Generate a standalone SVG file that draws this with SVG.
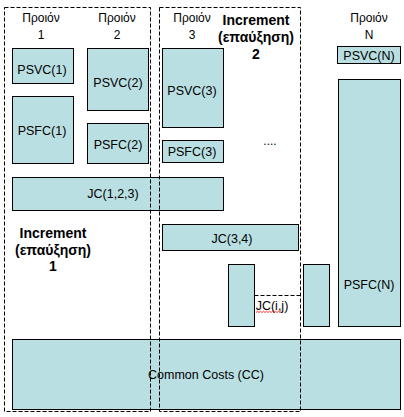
<svg xmlns="http://www.w3.org/2000/svg" width="404" height="417" viewBox="0 0 404 417">
<style>
.box{fill:#B9DFE2;stroke:#000;stroke-width:1}
.lbl{font-family:"Liberation Sans",Arial,sans-serif;font-size:12.5px;fill:#000;text-anchor:middle}
.hd{font-family:"Liberation Sans",Arial,sans-serif;font-size:12px;fill:#000;text-anchor:middle}
.inc{font-family:"Liberation Sans",Arial,sans-serif;font-size:14px;font-weight:bold;fill:#000;text-anchor:middle}
.dash{fill:none;stroke:#000;stroke-width:1;stroke-dasharray:4,2}
</style>
<rect width="404" height="417" fill="#fff"/>
<g id="cc"><rect class="box" x="12.5" y="339.5" width="388" height="70"/><text class="lbl" x="206" y="379">Common Costs (CC)</text></g>
<g id="psvc1"><rect class="box" x="12.5" y="48.5" width="61" height="35"/><text class="lbl" x="42" y="74">PSVC(1)</text></g>
<g id="psfc1"><rect class="box" x="12.5" y="96.5" width="61" height="67"/><text class="lbl" x="42" y="135">PSFC(1)</text></g>
<g id="psvc2"><rect class="box" x="87.5" y="48.5" width="61" height="62"/><text class="lbl" x="118" y="87">PSVC(2)</text></g>
<g id="psfc2"><rect class="box" x="87.5" y="123.5" width="61" height="40"/><text class="lbl" x="118" y="149">PSFC(2)</text></g>
<g id="psvc3"><rect class="box" x="162.5" y="48.5" width="61" height="79"/><text class="lbl" x="192" y="95">PSVC(3)</text></g>
<g id="psfc3"><rect class="box" x="162.5" y="140.5" width="61" height="22"/><text class="lbl" x="192" y="156">PSFC(3)</text></g>
<g id="psvcN"><rect class="box" x="337.5" y="46.5" width="63" height="17"/><text class="lbl" x="369" y="59.5">PSVC(N)</text></g>
<g id="psfcN"><rect class="box" x="338.5" y="79.5" width="62" height="247"/><text class="lbl" x="369" y="289">PSFC(N)</text></g>
<g id="jc123"><rect class="box" x="12.5" y="177.5" width="211" height="33"/><text class="lbl" x="113" y="198">JC(1,2,3)</text></g>
<g id="jc34"><rect class="box" x="162.5" y="224.5" width="136" height="26"/><text class="lbl" x="232" y="243">JC(3,4)</text></g>
<g id="bi"><rect class="box" x="228.5" y="264.5" width="26" height="62"/></g>
<g id="bj"><rect class="box" x="303.5" y="264.5" width="26" height="62"/></g>
<g id="jcij"><text class="lbl" x="272" y="310">JC(i,j)</text><path d="M256,312.5 l1.5,-1.3 l1.5,1.3 l1.5,-1.3 l1.5,1.3 l1.5,-1.3 l1.5,1.3 l1.5,-1.3 l1.5,1.3 l1.5,-1.3 l1.5,1.3 l1.5,-1.3 l1.5,1.3 l1.5,-1.3 l1.5,1.3 l1.5,-1.3 l1.5,1.3 l1.5,-1.3" fill="none" stroke="#e00" stroke-width="0.8"/></g>
<g id="connectors"><line class="dash" x1="254.5" y1="295.5" x2="300.5" y2="295.5"/></g>
<g id="increment1"><rect class="dash" x="4.5" y="7.5" width="146" height="404"/>
<text class="inc" x="53" y="238">Increment</text><text class="inc" x="53" y="254.5">(επαύξηση)</text><text class="inc" x="53" y="271">1</text></g>
<g id="increment2"><rect class="dash" x="159.5" y="7.5" width="141" height="404"/>
<text class="inc" x="256" y="25">Increment</text><text class="inc" x="256" y="42">(επαύξηση)</text><text class="inc" x="256" y="59">2</text></g>
<g id="labels">
<text class="hd" x="41" y="22">Προιόν</text><text class="hd" x="41" y="38.5">1</text>
<text class="hd" x="117" y="22">Προιόν</text><text class="hd" x="117" y="38.5">2</text>
<text class="hd" x="192" y="22">Προιόν</text><text class="hd" x="192" y="38.5">3</text>
<text class="hd" x="369" y="22">Προιόν</text><text class="hd" x="369" y="38.5">N</text>
<text class="hd" x="270" y="145">....</text>
</g>
</svg>
